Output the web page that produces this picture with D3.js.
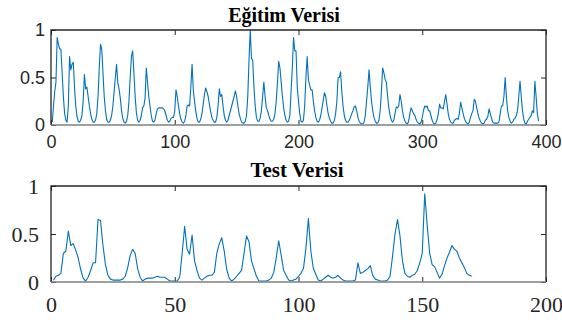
<!DOCTYPE html>
<html>
<head>
<meta charset="utf-8">
<script src="https://cdn.jsdelivr.net/npm/d3@7"></script>
<style>
  body { margin: 0; background: #fff; }
  svg { display: block; }
</style>
</head>
<body>
<svg id="chart" width="562" height="323"></svg>
<script>
// training series (sample 1..394)
const trainValues = [
  0.03,0.2,0.35,0.45,0.92,0.85,0.8,0.8,0.55,0.3,
  0.12,0.05,0.03,0.2,0.72,0.58,0.64,0.66,0.4,0.2,
  0.09,0.04,0.03,0.05,0.1,0.25,0.53,0.38,0.4,0.3,
  0.2,0.12,0.06,0.03,0.03,0.05,0.12,0.3,0.6,0.85,
  0.8,0.55,0.3,0.15,0.06,0.03,0.03,0.05,0.1,0.2,
  0.35,0.5,0.64,0.44,0.38,0.28,0.15,0.07,0.03,0.02,
  0.04,0.1,0.25,0.5,0.72,0.78,0.55,0.3,0.13,0.05,
  0.03,0.05,0.1,0.18,0.2,0.28,0.6,0.45,0.3,0.2,
  0.1,0.04,0.03,0.05,0.12,0.17,0.18,0.18,0.18,0.18,
  0.17,0.15,0.1,0.05,0.03,0.04,0.07,0.08,0.08,0.15,
  0.37,0.3,0.2,0.12,0.06,0.03,0.02,0.04,0.1,0.2,
  0.21,0.2,0.4,0.64,0.37,0.25,0.14,0.07,0.03,0.03,
  0.06,0.12,0.22,0.32,0.39,0.35,0.3,0.22,0.14,0.08,
  0.05,0.03,0.03,0.08,0.2,0.38,0.3,0.32,0.2,0.1,
  0.05,0.03,0.05,0.1,0.15,0.2,0.25,0.3,0.36,0.3,
  0.2,0.12,0.07,0.03,0.02,0.02,0.04,0.1,0.3,0.68,
  1.0,0.7,0.68,0.4,0.2,0.08,0.04,0.04,0.07,0.15,
  0.3,0.45,0.3,0.18,0.15,0.1,0.06,0.04,0.04,0.06,
  0.12,0.25,0.45,0.67,0.6,0.45,0.3,0.18,0.1,0.05,
  0.03,0.04,0.1,0.35,0.6,0.92,0.78,0.78,0.4,0.25,
  0.12,0.04,0.03,0.05,0.2,0.5,0.72,0.48,0.42,0.37,
  0.37,0.25,0.15,0.08,0.04,0.03,0.05,0.1,0.18,0.26,
  0.34,0.3,0.2,0.12,0.07,0.04,0.02,0.02,0.05,0.12,
  0.25,0.5,0.5,0.56,0.35,0.2,0.1,0.05,0.03,0.03,
  0.05,0.08,0.12,0.15,0.19,0.2,0.15,0.08,0.04,0.02,
  0.01,0.01,0.03,0.1,0.25,0.4,0.58,0.4,0.25,0.15,
  0.08,0.04,0.02,0.02,0.05,0.15,0.35,0.6,0.55,0.48,
  0.45,0.3,0.18,0.1,0.05,0.03,0.05,0.12,0.19,0.18,
  0.2,0.32,0.25,0.15,0.08,0.04,0.02,0.01,0.04,0.12,
  0.18,0.15,0.12,0.1,0.06,0.03,0.02,0.01,0.03,0.08,
  0.15,0.2,0.19,0.2,0.15,0.15,0.1,0.05,0.02,0.01,
  0.02,0.06,0.12,0.22,0.18,0.18,0.17,0.25,0.32,0.22,
  0.12,0.06,0.03,0.02,0.02,0.05,0.06,0.07,0.06,0.12,
  0.24,0.18,0.12,0.07,0.04,0.02,0.01,0.03,0.08,0.12,
  0.15,0.27,0.25,0.18,0.12,0.07,0.04,0.02,0.01,0.02,
  0.05,0.06,0.09,0.17,0.12,0.07,0.03,0.02,0.02,0.02,
  0.02,0.03,0.12,0.2,0.2,0.3,0.5,0.3,0.15,0.08,
  0.04,0.02,0.03,0.06,0.07,0.1,0.15,0.3,0.46,0.3,
  0.15,0.06,0.02,0.01,0.04,0.06,0.08,0.1,0.15,0.13,
  0.46,0.3,0.12,0.04
];

// test series (sample 1..170)
const testValues = [
  0.02,0.06,0.07,0.09,0.3,0.32,0.53,0.38,0.4,0.33,
  0.25,0.13,0.04,0.01,0.05,0.12,0.2,0.2,0.65,0.64,
  0.38,0.18,0.07,0.03,0.02,0.02,0.02,0.02,0.03,0.06,
  0.15,0.28,0.34,0.3,0.14,0.05,0.01,0.03,0.04,0.04,
  0.04,0.05,0.06,0.05,0.05,0.05,0.03,0.01,0.01,0.01,
  0.01,0.05,0.3,0.58,0.34,0.29,0.49,0.22,0.12,0.04,
  0.02,0.04,0.06,0.07,0.07,0.1,0.3,0.4,0.46,0.32,
  0.13,0.04,0.01,0.03,0.06,0.09,0.12,0.3,0.48,0.42,
  0.22,0.14,0.06,0.01,0.01,0.01,0.01,0.02,0.04,0.1,
  0.25,0.43,0.28,0.12,0.07,0.02,0.01,0.02,0.03,0.06,
  0.09,0.14,0.35,0.66,0.32,0.14,0.08,0.02,0.01,0.03,
  0.05,0.07,0.05,0.04,0.05,0.07,0.04,0.02,0.01,0.01,
  0.01,0.01,0.02,0.2,0.09,0.1,0.12,0.14,0.17,0.07,
  0.03,0.02,0.01,0.01,0.01,0.02,0.06,0.27,0.5,0.65,
  0.48,0.22,0.09,0.06,0.05,0.07,0.08,0.12,0.2,0.3,
  0.92,0.59,0.3,0.18,0.16,0.1,0.04,0.08,0.17,0.25,
  0.31,0.38,0.34,0.32,0.25,0.2,0.15,0.09,0.07,0.06
];

const trainXTicks = [0, 100, 200, 300, 400];
const testXTicks = [0, 50, 100, 150, 200];
const yTicks = [0, 0.5, 1];

const svg = d3.select('#chart');
const lineColor = '#0072BD';
const boxColor = '#262626';

// one MATLAB-style subplot
function drawPanel(p) {
  const x = d3.scaleLinear().domain(p.xDomain).range([p.left, p.right]);
  const y = d3.scaleLinear().domain([0, 1]).range([p.bottom, p.top]);
  const g = svg.append('g');

  const styleAxis = (sel, font, size) => {
    sel.select('.domain').remove();
    sel.selectAll('line').attr('stroke', boxColor);
    sel.selectAll('text')
      .attr('fill', boxColor)
      .style('font-family', font)
      .style('font-size', size + 'px');
  };

  g.append('g')
    .attr('transform', `translate(0,${p.bottom})`)
    .call(d3.axisBottom(x).tickValues(p.xTicks).tickSizeInner(-5).tickSizeOuter(0).tickPadding(p.xPad))
    .call(s => styleAxis(s, p.tickFont, p.tickSize));
  g.append('g')
    .attr('transform', `translate(0,${p.top})`)
    .call(d3.axisTop(x).tickValues(p.xTicks).tickSizeInner(-5).tickSizeOuter(0).tickFormat(''))
    .call(s => styleAxis(s, p.tickFont, p.tickSize));
  g.append('g')
    .attr('transform', `translate(${p.left},0)`)
    .call(d3.axisLeft(y).tickValues(yTicks).tickSizeInner(-5).tickSizeOuter(0).tickPadding(p.yPad).tickFormat(d3.format('')))
    .call(s => styleAxis(s, p.tickFont, p.tickSize));
  g.append('g')
    .attr('transform', `translate(${p.right},0)`)
    .call(d3.axisRight(y).tickValues(yTicks).tickSizeInner(-5).tickSizeOuter(0).tickFormat(''))
    .call(s => styleAxis(s, p.tickFont, p.tickSize));

  const line = d3.line()
    .x((d, i) => x(i + 1))
    .y(d => y(d));

  g.append('path')
    .datum(p.values)
    .attr('fill', 'none')
    .attr('stroke', lineColor)
    .attr('stroke-width', 1.1)
    .attr('stroke-linejoin', 'round')
    .attr('d', line);

  // box
  g.append('path')
    .attr('d', `M${p.left},${p.bottom}V${p.top}H${p.right}V${p.bottom}`)
    .attr('fill', 'none')
    .attr('stroke', boxColor)
    .attr('stroke-width', 1.3);
  g.append('line')
    .attr('x1', p.left).attr('x2', p.right)
    .attr('y1', p.bottom).attr('y2', p.bottom)
    .attr('stroke', '#7f7f7f')
    .attr('stroke-width', 1.5);

  g.append('text')
    .attr('x', p.titleX)
    .attr('y', p.titleY)
    .attr('text-anchor', 'middle')
    .style('font-family', '"Liberation Serif", "Times New Roman", serif')
    .style('font-weight', 'bold')
    .style('font-size', p.titleSize + 'px')
    .attr('fill', '#000')
    .text(p.title);
}

drawPanel({
  title: 'Eğitim Verisi',
  values: trainValues,
  xDomain: [0, 400],
  xTicks: trainXTicks,
  left: 51, right: 546, top: 30, bottom: 125,
  tickFont: '"Liberation Sans", Arial, sans-serif',
  tickSize: 18, xPad: 10, yPad: 6,
  titleX: 284, titleY: 22, titleSize: 20
});

drawPanel({
  title: 'Test Verisi',
  values: testValues,
  xDomain: [0, 200],
  xTicks: testXTicks,
  left: 51, right: 546, top: 186, bottom: 282,
  tickFont: '"Liberation Serif", "Times New Roman", serif',
  tickSize: 22, xPad: 14, yPad: 12,
  titleX: 297, titleY: 177, titleSize: 21
});
</script>
</body>
</html>
